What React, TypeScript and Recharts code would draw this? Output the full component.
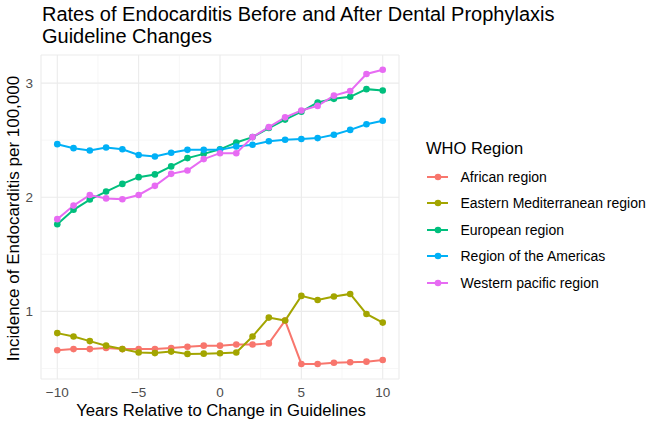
import React from 'react';
import { LineChart, Line, XAxis, YAxis, CartesianGrid, ReferenceLine } from 'recharts';

const years = [-10, -9, -8, -7, -6, -5, -4, -3, -2, -1, 0, 1, 2, 3, 4, 5, 6, 7, 8, 9, 10];

const african = [0.66, 0.67, 0.67, 0.68, 0.67, 0.67, 0.67, 0.68, 0.69, 0.7, 0.7, 0.71, 0.71, 0.72, 0.92, 0.54, 0.54, 0.55, 0.555, 0.56, 0.575];
const easternMed = [0.81, 0.78, 0.74, 0.7, 0.67, 0.64, 0.635, 0.648, 0.628, 0.63, 0.634, 0.64, 0.78, 0.946, 0.92, 1.136, 1.1, 1.13, 1.153, 0.978, 0.902];
const european = [1.764, 1.89, 1.98, 2.05, 2.117, 2.176, 2.2, 2.27, 2.343, 2.38, 2.42, 2.48, 2.527, 2.606, 2.68, 2.75, 2.83, 2.862, 2.88, 2.947, 2.935];
const americas = [2.465, 2.43, 2.41, 2.436, 2.42, 2.37, 2.357, 2.39, 2.415, 2.415, 2.415, 2.444, 2.46, 2.49, 2.503, 2.51, 2.518, 2.547, 2.59, 2.64, 2.67];
const westernPacific = [1.808, 1.927, 2.02, 1.99, 1.983, 2.02, 2.1, 2.205, 2.234, 2.334, 2.386, 2.386, 2.527, 2.614, 2.7, 2.76, 2.8, 2.89, 2.93, 3.08, 3.117];

const xTicks = [-10, -5, 0, 5, 10];
const xMinor = [-7.5, -2.5, 2.5, 7.5];
const yTicks = [1, 2, 3];
const yMinor = [0.5, 1.5, 2.5];

const series = [
  { key: 'african', name: 'African region', color: '#F8766D', values: african },
  { key: 'easternMed', name: 'Eastern Mediterranean region', color: '#A3A500', values: easternMed },
  { key: 'european', name: 'European region', color: '#00BF7D', values: european },
  { key: 'americas', name: 'Region of the Americas', color: '#00B0F6', values: americas },
  { key: 'westernPacific', name: 'Western pacific region', color: '#E76BF3', values: westernPacific },
];

const data = years.map((year, i) => {
  const row: any = { year };
  series.forEach((s) => {
    row[s.key] = s.values[i];
  });
  return row;
});

const FONT = '"Liberation Sans", Arial, Helvetica, sans-serif';

const minus = (v: number) => String(v).replace('-', '\u2212');

const LegendBox = () => (
  <div style={{ position: 'absolute', left: 426, top: 137.6, width: 224, fontFamily: FONT, color: '#000' }}>
    <div style={{ fontSize: 16.5, lineHeight: '20px', marginBottom: 5.8, whiteSpace: 'nowrap' }}>WHO Region</div>
    {series.map((s) => (
      <div key={s.key} style={{ display: 'flex', alignItems: 'center', height: 26.6, whiteSpace: 'nowrap' }}>
        <svg width={22} height={10} style={{ marginRight: 12.5, flexShrink: 0 }}>
          <line x1={1} y1={5} x2={22} y2={5} stroke={s.color} strokeWidth={2} />
          <circle cx={12} cy={5} r={3.3} fill={s.color} />
        </svg>
        <span style={{ fontSize: 14 }}>{s.name}</span>
      </div>
    ))}
  </div>
);

const YLabel = (props: any) => {
  const { viewBox } = props;
  const cy = viewBox.y + viewBox.height / 2 + 1.5;
  return (
    <text
      x={13.5}
      y={cy}
      transform={`rotate(-90, 13.5, ${cy})`}
      textAnchor="middle"
      dominantBaseline="central"
      fontFamily={FONT}
      fontSize={17}
      fill="#000"
    >
      Incidence of Endocarditis per 100,000
    </text>
  );
};

const XLabel = (props: any) => {
  const { viewBox } = props;
  const cx = viewBox.x + viewBox.width / 2 + 1;
  return (
    <text x={cx} y={410.5} textAnchor="middle" dominantBaseline="central" fontFamily={FONT} fontSize={16.7} fill="#000">
      Years Relative to Change in Guidelines
    </text>
  );
};

export default function App() {
  return (
    <div style={{ position: 'absolute', left: 0, top: 0, width: 650, height: 423, background: '#fff', fontFamily: FONT }}>
      <div style={{ position: 'absolute', left: 42, top: 4, fontSize: 20, lineHeight: '21.5px', color: '#000', whiteSpace: 'nowrap' }}>
        Rates of Endocarditis Before and After Dental Prophylaxis
        <br />
        Guideline Changes
      </div>
      <LineChart width={650} height={423} data={data} margin={{ top: 55, right: 251, left: 0, bottom: 0 }}>
        <CartesianGrid stroke="#EBEBEB" strokeWidth={1.1} />
        {xMinor.map((v) => (
          <ReferenceLine key={`xm${v}`} x={v} stroke="#F2F2F2" strokeWidth={0.6} />
        ))}
        {yMinor.map((v) => (
          <ReferenceLine key={`ym${v}`} y={v} stroke="#F2F2F2" strokeWidth={0.6} />
        ))}
        <XAxis
          dataKey="year"
          type="number"
          domain={[-11, 11]}
          ticks={xTicks}
          tickFormatter={minus}
          axisLine={false}
          tickLine={false}
          tickSize={0}
          tickMargin={8}
          height={44}
          tick={{ fill: '#4D4D4D', fontSize: 13.5, fontFamily: FONT }}
          label={<XLabel />}
        />
        <YAxis
          type="number"
          domain={[0.408, 3.246]}
          ticks={yTicks}
          axisLine={false}
          tickLine={false}
          tickSize={0}
          tickMargin={8}
          width={41}
          tick={{ fill: '#4D4D4D', fontSize: 13.5, fontFamily: FONT }}
          label={<YLabel />}
        />
        {series.map((s) => (
          <Line
            key={s.key}
            dataKey={s.key}
            name={s.name}
            stroke={s.color}
            strokeWidth={2}
            dot={{ r: 3.3, fill: s.color, stroke: s.color, strokeWidth: 0 }}
            activeDot={false}
            isAnimationActive={false}
          />
        ))}
      </LineChart>
      <LegendBox />
    </div>
  );
}
